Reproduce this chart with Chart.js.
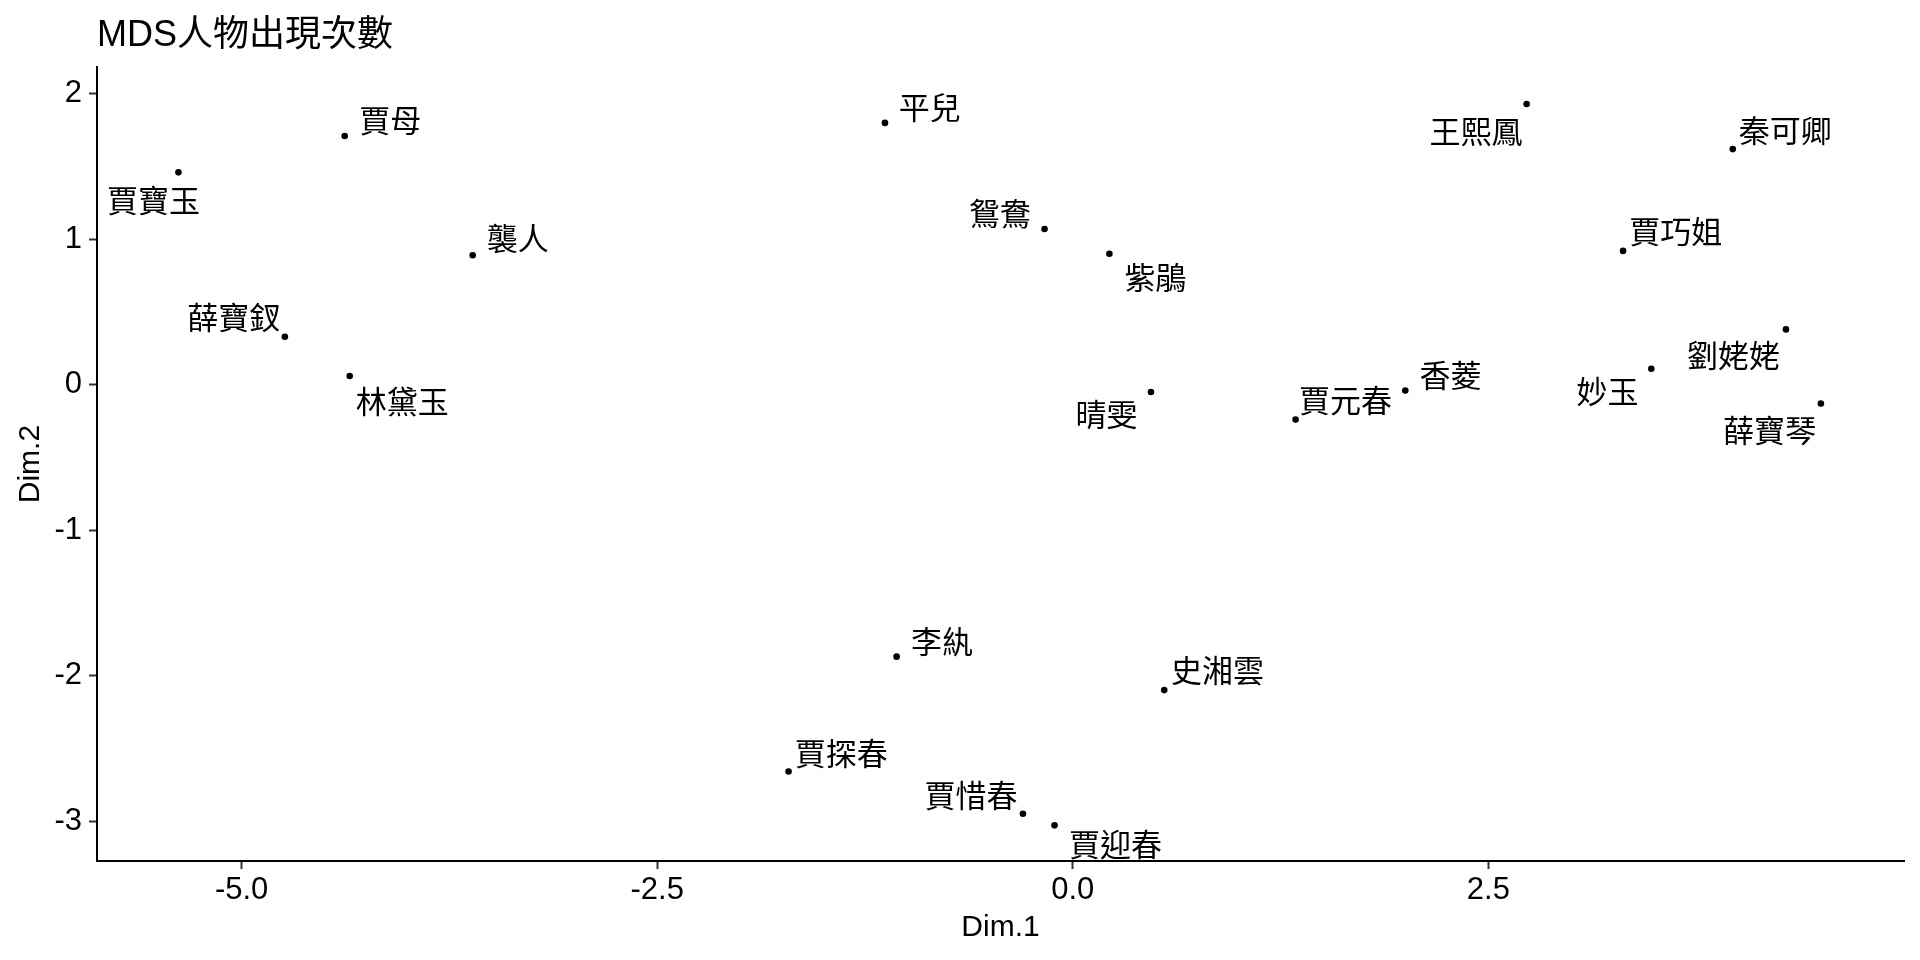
<!DOCTYPE html>
<html>
<head>
<meta charset="utf-8">
<script src="https://cdn.jsdelivr.net/npm/chart.js@4/dist/chart.umd.min.js"></script>
<style>
  html, body { margin: 0; padding: 0; background: #fff; }
  #wrap { width: 1920px; height: 960px; }
</style>
</head>
<body>
<div id="wrap"><canvas id="c" width="1920" height="960"></canvas></div>
<script>
// ---- data ----
const names = ['賈寶玉','賈母','襲人','薛寶釵','林黛玉','平兒','鴛鴦','紫鵑','晴雯','王熙鳳','秦可卿','賈巧姐','劉姥姥','妙玉','薛寶琴','香菱','賈元春','李紈','史湘雲','賈探春','賈惜春','賈迎春'];
const dim1 = [-5.38,-4.38,-3.61,-4.74,-4.35,-1.13,-0.17,0.22,0.47,2.73,3.97,3.31,4.29,3.48,4.50,2.00,1.34,-1.06,0.55,-1.71,-0.30,-0.11];
const dim2 = [1.46,1.71,0.89,0.33,0.06,1.80,1.07,0.90,-0.05,1.93,1.62,0.92,0.38,0.11,-0.13,-0.04,-0.24,-1.87,-2.10,-2.66,-2.95,-3.03];
const xTicks = [-5.0, -2.5, 0.0, 2.5];
const yTicks = [-3, -2, -1, 0, 1, 2];
const chartTitle = 'MDS人物出現次數';
const xTitle = 'Dim.1';
const yTitle = 'Dim.2';

// label placement (repelled label centre relative to its point, in px)
const labelOffsets = [[-25,27.5],[45.5,-16],[45,-17],[-51,-19],[52.5,25.5],[44.7,-15.7],[-44.7,-16],[46,23.7],[-44.5,22.7],[-50.7,27.3],[52.4,-19.2],[52.8,-19.7],[-52.5,25.5],[-43.7,22.6],[-51.3,26.2],[45.3,-15.7],[50,-19.8],[45.3,-15.3],[53.3,-19.4],[52.6,-18.3],[-52,-18.4],[61,19]];

const latin = "'Liberation Sans', Arial, 'Noto Sans CJK TC', sans-serif";
const cjk = "'Noto Sans CJK TC', 'Liberation Sans', sans-serif";

const points = dim1.map((x, i) => ({ x: x, y: dim2[i] }));

const labelPlugin = {
  id: 'pointLabels',
  afterDatasetsDraw(chart) {
    const meta = chart.getDatasetMeta(0);
    const ctx = chart.ctx;
    ctx.save();
    ctx.font = "31px " + cjk;
    ctx.fillStyle = '#000';
    ctx.textAlign = 'center';
    ctx.textBaseline = 'middle';
    meta.data.forEach((el, i) => {
      const off = labelOffsets[i];
      ctx.fillText(names[i], el.x + off[0], el.y + off[1]);
    });
    ctx.restore();
  }
};

const axisCommon = {
  border: { display: true, color: '#000', width: 2 },
  grid: { display: true, drawOnChartArea: false, drawTicks: true, tickLength: 8, tickWidth: 2, tickColor: '#333' },
};

new Chart(document.getElementById('c'), {
  type: 'scatter',
  data: {
    datasets: [{
      data: points,
      backgroundColor: '#000',
      borderWidth: 0,
      pointRadius: 3.3,
      pointHoverRadius: 3.3
    }]
  },
  options: {
    responsive: false,
    animation: false,
    events: [],
    devicePixelRatio: 1,
    layout: { padding: { left: 0, right: 16, top: 0, bottom: 0 } },
    plugins: {
      legend: { display: false },
      tooltip: { enabled: false },
      title: {
        display: true,
        text: chartTitle,
        align: 'start',
        fullSize: false,
        color: '#000',
        font: { family: latin, size: 36, weight: 'normal', lineHeight: 1.2 },
        padding: { top: 14, bottom: 10 }
      }
    },
    scales: {
      x: Object.assign({}, axisCommon, {
        type: 'linear',
        min: -5.87,
        max: 5.0,
        afterBuildTicks: (s) => { s.ticks = xTicks.map(v => ({ value: v })); },
        afterFit: (s) => { s.height = 99; },
        ticks: {
          color: '#000',
          font: { family: latin, size: 31 },
          padding: 3,
          maxRotation: 0,
          autoSkip: false,
          callback: (v) => Number(v).toFixed(1)
        },
        title: {
          display: true, text: xTitle, color: '#000',
          font: { family: latin, size: 30 },
          padding: { top: 0, bottom: 14 }
        }
      }),
      y: Object.assign({}, axisCommon, {
        type: 'linear',
        min: -3.275,
        max: 2.183,
        afterBuildTicks: (s) => { s.ticks = yTicks.map(v => ({ value: v })); },
        afterFit: (s) => { s.width = 97; },
        ticks: {
          color: '#000',
          font: { family: latin, size: 31 },
          padding: 7,
          autoSkip: false,
          callback: (v) => String(v)
        },
        title: {
          display: true, text: yTitle, color: '#000',
          font: { family: latin, size: 30 },
          padding: { top: 13, bottom: 0 }
        }
      })
    }
  },
  plugins: [labelPlugin]
});
</script>
</body>
</html>
